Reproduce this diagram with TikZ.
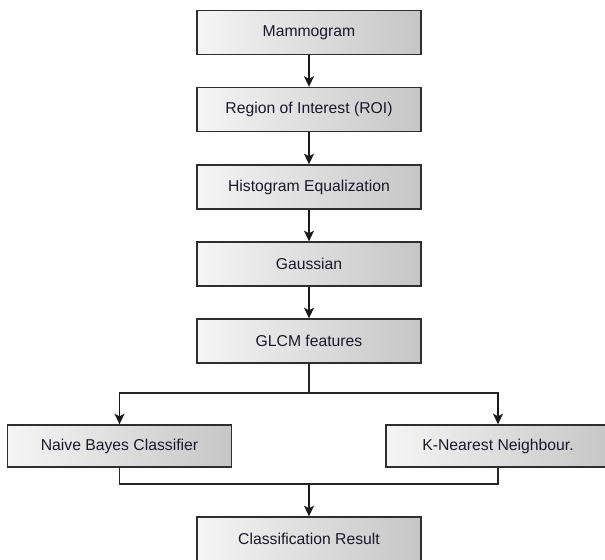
\documentclass[tikz,border=0pt]{standalone}
\usepackage{fontspec}
\setmainfont{Liberation Sans}
\usetikzlibrary{arrows.meta}
\definecolor{boxline}{HTML}{2E2E2E}
\definecolor{txt}{HTML}{1A1A26}
\tikzset{
  x=0.75pt, y=-0.75pt,
  procbox/.style={draw=boxline, line width=1pt, rectangle,
    left color=gray!8, right color=gray!45,
    minimum width=168pt, minimum height=33pt, inner sep=0pt,
    font=\fontsize{11.8pt}{13pt}\selectfont, text=txt},
  flow/.style={line width=1.1pt, draw=black!90, -{Stealth[length=8pt,width=7.5pt,inset=2pt]}},
  link/.style={line width=0.9pt, draw=black!85}
}
\begin{document}
\begin{tikzpicture}
\useasboundingbox (0,0) rectangle (605,559);
\node[procbox] (mam) at (309,32.5) {Mammogram};
\node[procbox] (roi) at (309,109.5) {Region of Interest (ROI)};
\node[procbox] (his) at (309,187) {Histogram Equalization};
\node[procbox] (gau) at (309,264) {Gaussian};
\node[procbox] (glc) at (309,341) {GLCM features};
\node[procbox, minimum height=31.5pt] (nbc) at (119.5,446) {Naive Bayes Classifier};
\node[procbox, minimum height=31.5pt] (knn) at (498,446) {K-Nearest Neighbour.};
\node[procbox] (res) at (309,539) {Classification Result};
\coordinate (split) at (309,393);
\coordinate (merge) at (309,484);
\draw[flow] (mam) -- (roi);
\draw[flow] (roi) -- (his);
\draw[flow] (his) -- (gau);
\draw[flow] (gau) -- (glc);
\draw[link, line width=1.1pt] (glc.south) -- (split);
\draw[link] (split) -| ([yshift=-1pt]nbc.north |- split);
\draw[link] (split) -| ([yshift=-1pt]knn.north |- split);
\draw[flow] (nbc.north |- split) -- (nbc.north);
\draw[flow] (knn.north |- split) -- (knn.north);
\draw[link] (nbc.south) |- (merge) -| (knn.south);
\draw[flow] (merge) -- (res);
\end{tikzpicture}
\end{document}
